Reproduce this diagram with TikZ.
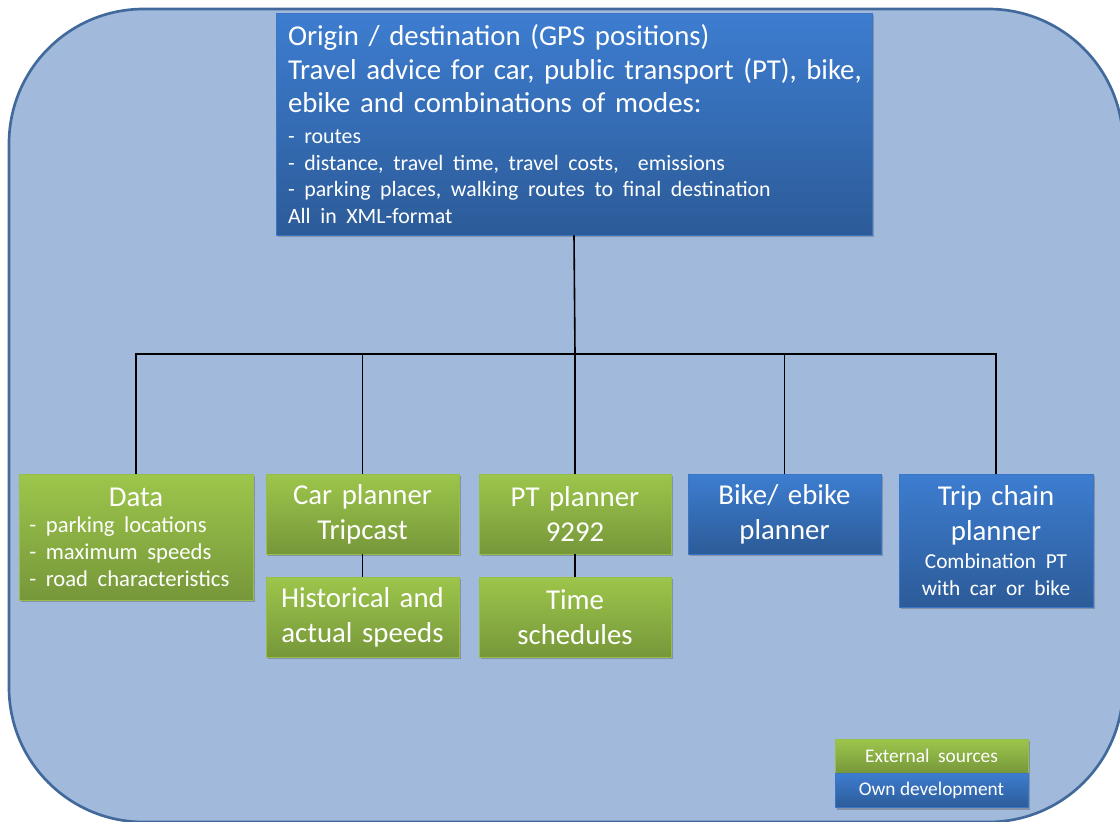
\documentclass[tikz,border=0pt]{standalone}
\usepackage{fontspec}
\setmainfont{Carlito}
\usepackage{xcolor}
\usepackage{tikz}
\usetikzlibrary{positioning,calc,shadows}

\definecolor{bgfill}{HTML}{A1B9DB}
\definecolor{bgline}{HTML}{41699B}
\definecolor{bluetop}{HTML}{3D7DD0}
\definecolor{bluebot}{HTML}{2C5B98}
\definecolor{greentop}{HTML}{9DC64B}
\definecolor{greenbot}{HTML}{76973A}

\newcommand{\bigtxt}{\fontsize{21.6}{26}\selectfont}
\newcommand{\smalltxt}{\fontsize{16.4}{20}\selectfont}

\begin{document}
\begin{tikzpicture}[x=0.75pt, y=-0.75pt,
    box/.style={inner sep=0pt, text=white, font=\bigtxt,
        drop shadow={shadow xshift=1.2pt, shadow yshift=-1.5pt, opacity=0.35, fill=black!70}},
    greenbox/.style={box, top color=greentop, bottom color=greenbot, draw=greentop!85!greenbot, line width=0.6pt},
    bluebox/.style={box, top color=bluetop, bottom color=bluebot, draw=bluetop!80!bluebot, line width=0.6pt},
    link/.style={line width=1.2pt, black}]
    \useasboundingbox (0,0) rectangle (1120,821);
    \clip (0,0) rectangle (1120,821);

    % Background panel
    \draw [fill=bgfill, draw=bgline, line width=2pt, rounded corners=101pt] (9,9) rectangle (1123,822);

    % Top box
    \node [bluebox, text width=429pt, minimum width=447pt, minimum height=166.5pt] (top) at (574,124) {%
        {\raggedright\fontsize{21.6}{25.2}\selectfont Origin / destination (GPS positions)\\
        \mbox{Travel advice for car, public transport (PT), bike,}\\
        ebike and combinations of modes:\par}
        \vspace{3pt}
        {\raggedright\smalltxt - routes\\
        - distance, travel time, travel costs,\ \ emissions\\
        - parking places, walking routes to final destination\\
        All in XML-format\par}};

    % Planners
    \node [greenbox, text width=160pt, minimum width=175.5pt, minimum height=94.5pt] (data) at (136,537) {%
        {\centering\bigtxt Data\par}
        {\raggedright\fontsize{17}{20}\selectfont - parking locations\\ - maximum speeds\\ - road characteristics\par}};
    \node [greenbox, text width=138pt, minimum width=144.75pt, minimum height=60pt] (car) at (362.5,514) {\centering Car planner\\ Tripcast\par};
    \node [greenbox, text width=138pt, minimum width=144.75pt, minimum height=60pt] (hist) at (362.5,617) {\centering Historical and\\ actual speeds\par};
    \node [greenbox, text width=138pt, minimum width=144pt, minimum height=60pt] (pt) at (575,514) {\centering PT planner\\ 9292\par};
    \node [greenbox, text width=138pt, minimum width=144pt, minimum height=60pt] (time) at (575,617) {\centering Time\\ schedules\par};
    \node [bluebox, text width=138pt, minimum width=144.75pt, minimum height=60pt] (bike) at (784.5,514) {\centering Bike/ ebike\\ planner\par};
    \node [bluebox, text width=138pt, minimum width=145.5pt, minimum height=99.75pt] (trip) at (996,540.5) {%
        {\centering\bigtxt Trip chain\\ planner\par}
        \vspace{1pt}
        {\centering\fontsize{16}{20}\selectfont Combination PT\\ with car or bike\par}};

    % Tree lines
    \coordinate (bus) at (575,354);
    \draw [link] (top.south) -- (bus);
    \foreach \n in {data, car, pt, bike, trip} {
        \draw [link] (\n.north) |- (bus);
    }
    \draw [link] (car.south) -- (hist.north);
    \draw [link] (pt.south) -- (time.north);

    % Legend
    \node [greenbox, font=\fontsize{14.5}{17}\selectfont, minimum width=144.75pt, minimum height=25.5pt] (ext) at (931.5,756) {External\ \ sources};
    \node [bluebox, font=\fontsize{14.5}{17}\selectfont, minimum width=144.75pt, minimum height=26pt] (own) at (931.5,790.5) {Own development};
\end{tikzpicture}
\end{document}
